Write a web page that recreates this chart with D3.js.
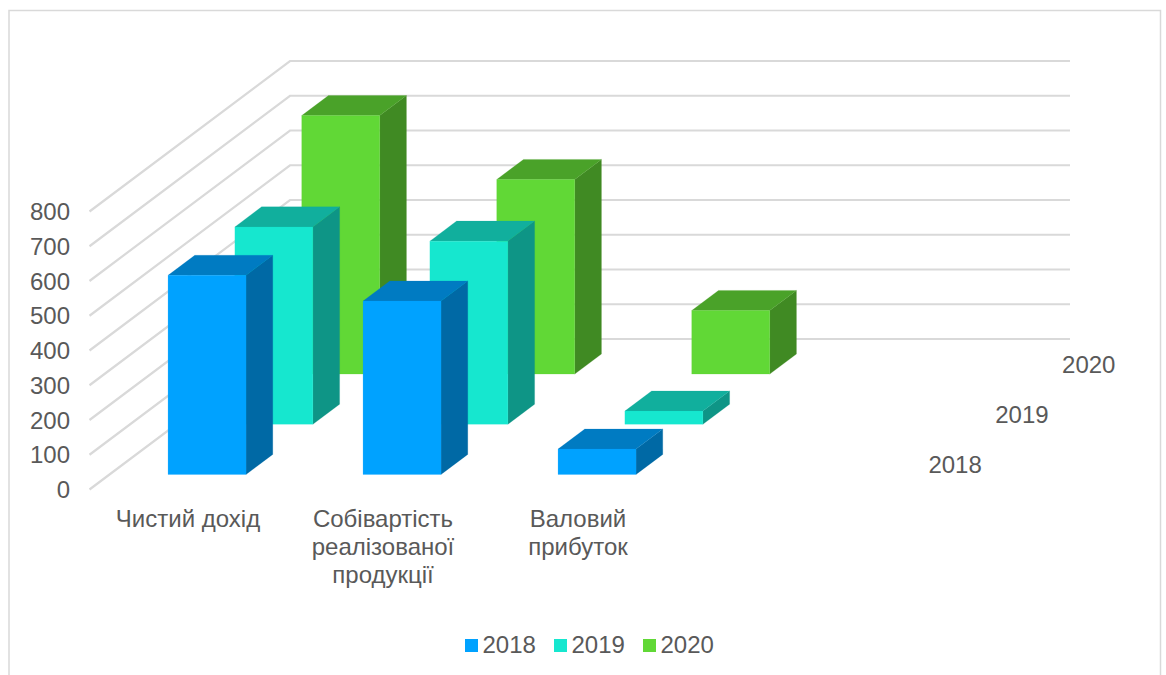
<!DOCTYPE html>
<html lang="uk">
<head>
<meta charset="utf-8">
<title>Фінансові показники 2018–2020</title>
<script src="https://cdn.jsdelivr.net/npm/d3@7"></script>
<style>
  html, body { margin: 0; padding: 0; background: #fff; overflow: hidden; }
  svg { display: block; font-family: "Liberation Sans", Arial, sans-serif; }
  text { fill: #595959; }
</style>
</head>
<body>
<svg id="chart" width="1166" height="675"></svg>
<script>
// Chart data
const categories = ["Чистий дохід", "Собівартість реалізованої продукції", "Валовий прибуток", ""];
const categoryLines = [["Чистий дохід"], ["Собівартість", "реалізованої", "продукції"], ["Валовий", "прибуток"], []];
const years = ["2018", "2019", "2020"];
const values2018 = [573, 499, 73];
const values2019 = [568, 527, 38];
const values2020 = [744, 560, 183];
const valueTicks = [0, 100, 200, 300, 400, 500, 600, 700, 800];

// Face colours per year
const frontColors = ["#00A2FF", "#16E7CF", "#61D836"];
const sideColors = ["#0069A5", "#0E9586", "#408A23"];
const topColors = ["#007BC2", "#11AF9D", "#4AA229"];

const seriesValues = [values2018, values2019, values2020];
const svg = d3.select("#chart");

// Oblique projection: the floor runs along x and recedes along a fixed diagonal
const originX = 89.5, originY = 489.5;
const depthDX = 200.5, depthDY = -150.5;

const x = d3.scaleBand().domain(d3.range(categories.length)).range([0, 780])
  .paddingInner(0.6).paddingOuter(0.3);
const depth = d3.scaleBand().domain(years).range([0, 1])
  .paddingInner(0.6).paddingOuter(0.3);
const y = d3.scaleLinear().domain([0, 800]).range([originY, originY - 278]);

const project = (px, d, v) => [originX + px + d * depthDX, y(v) + d * depthDY];
const poly = pts => pts.map(p => p.map(n => n.toFixed(2)).join(",")).join(" ");

// Outer frame, open at the bottom
svg.append("path")
  .attr("d", "M9,675V10.5H1160.5V675")
  .attr("fill", "none").attr("stroke", "#D9D9D9").attr("stroke-width", 1.5);

// Gridlines on the side wall and back wall
const grid = svg.append("g").attr("fill", "none").attr("stroke", "#D9D9D9").attr("stroke-width", 2.2);
valueTicks.forEach(t => {
  const a = project(0, 0, t), b = project(0, 1, t), c = project(780, 1, t);
  grid.append("polyline").attr("points", poly([a, b, c]));
});

// Value axis
const axis = d3.axisLeft(y).tickValues(valueTicks).tickSize(0).tickPadding(0);
const axisG = svg.append("g").attr("transform", "translate(70,0.5)").call(axis);
axisG.select(".domain").remove();
axisG.selectAll("text").attr("font-size", 24).attr("font-family", "inherit").style("fill", "#595959");

// Bars, painted from the back row forward
const bars = svg.append("g");
d3.range(years.length - 1, -1, -1).forEach(s => {
  seriesValues[s].forEach((v, i) => {
    const x0 = x(i), x1 = x0 + x.bandwidth();
    const d0 = depth(years[s]), d1 = d0 + depth.bandwidth();
    const g = bars.append("g").attr("stroke-width", 0.2).attr("stroke-linejoin", "round");
    g.append("polygon")
      .attr("points", poly([project(x1, d0, 0), project(x1, d1, 0), project(x1, d1, v), project(x1, d0, v)]))
      .attr("fill", sideColors[s]).attr("stroke", sideColors[s]);
    g.append("polygon")
      .attr("points", poly([project(x0, d0, v), project(x1, d0, v), project(x1, d1, v), project(x0, d1, v)]))
      .attr("fill", topColors[s]).attr("stroke", topColors[s]);
    g.append("polygon")
      .attr("points", poly([project(x0, d0, 0), project(x1, d0, 0), project(x1, d0, v), project(x0, d0, v)]))
      .attr("fill", frontColors[s]).attr("stroke", frontColors[s]);
  });
});

// Category labels along the front edge
categoryLines.forEach((lines, i) => {
  const cx = originX + x(i) + x.bandwidth() / 2 + 1;
  const t = svg.append("text").attr("text-anchor", "middle").attr("font-size", 24);
  lines.forEach((line, k) => {
    t.append("tspan").attr("x", cx).attr("y", 527 + k * 28.2).text(line);
  });
});

// Year labels along the depth axis
years.forEach(year => {
  const d = depth(year) + depth.bandwidth() / 2;
  const [px, py] = project(780, d, 0);
  svg.append("text")
    .attr("x", px + 25.5).attr("y", py + 8.7)
    .attr("text-anchor", "start").attr("font-size", 24)
    .text(year);
});

// Legend
const legendX = [465, 554, 643];
const legend = svg.append("g");
years.forEach((year, i) => {
  legend.append("rect")
    .attr("x", legendX[i]).attr("y", 639).attr("width", 13).attr("height", 13)
    .attr("fill", frontColors[i]);
  legend.append("text")
    .attr("x", legendX[i] + 17.5).attr("y", 653)
    .attr("font-size", 24).text(year);
});
</script>
</body>
</html>
